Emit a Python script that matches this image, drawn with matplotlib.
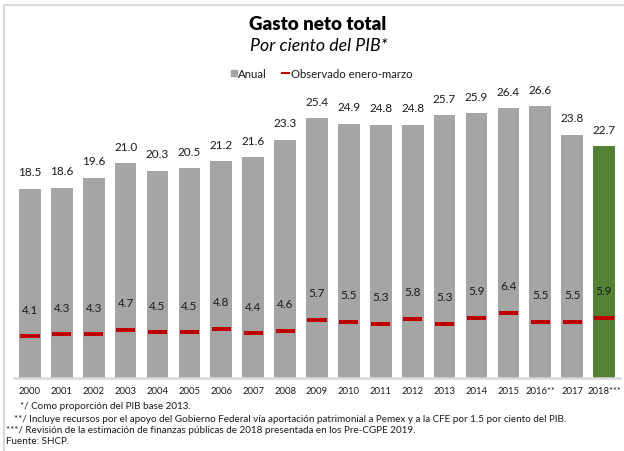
import matplotlib
matplotlib.use("Agg")
import matplotlib.pyplot as plt
from matplotlib.patches import Rectangle
from matplotlib.lines import Line2D
import numpy as np

years = ["2000", "2001", "2002", "2003", "2004", "2005", "2006", "2007", "2008", "2009",
         "2010", "2011", "2012", "2013", "2014", "2015", "2016**", "2017", "2018***"]
anual = [18.5, 18.6, 19.6, 21.0, 20.3, 20.5, 21.2, 21.6, 23.3, 25.4,
         24.9, 24.8, 24.8, 25.7, 25.9, 26.4, 26.6, 23.8, 22.7]
observado = [4.1, 4.3, 4.3, 4.7, 4.5, 4.5, 4.8, 4.4, 4.6, 5.7,
             5.5, 5.3, 5.8, 5.3, 5.9, 6.4, 5.5, 5.5, 5.9]
footnotes = [
    "*/ Como proporción del PIB base 2013.",
    "**/ Incluye recursos por el apoyo del Gobierno Federal vía aportación patrimonial a Pemex y a la CFE por 1.5 por ciento del PIB.",
    "***/ Revisión de la estimación de finanzas públicas de 2018 presentada en los Pre-CGPE 2019.",
    "Fuente: SHCP.",
]

plt.rcParams['font.family'] = ['Lato', 'DejaVu Sans']

W, H = 624, 452
fig = plt.figure(figsize=(W / 100, H / 100), dpi=100)

def fx(px):
    return px / W

def fy(py):
    return 1 - py / H

# frame
fig.patches.append(Rectangle((fx(4), fy(470)), fx(700), fy(6) - fy(470),
                             transform=fig.transFigure, fill=False,
                             edgecolor="#d9d9d9", lw=1.5))

ax = fig.add_axes([fx(14), fy(379), fx(620) - fx(14), fy(90) - fy(379)])
x = np.arange(len(years))
colors = ["#a5a5a5"] * (len(years) - 1) + ["#548235"]
ax.bar(x, anual, width=0.68, color=colors, zorder=2)
ax.hlines(observado, x - 0.3, x + 0.3, color="#c00000", lw=2.9, zorder=3)

for xi, v in zip(x, anual):
    ax.annotate(f"{v:.1f}", (xi, v), xytext=(0, 17), textcoords="offset pixels",
                ha="center", va="center", fontsize=8.5, color="#1a1a1a")
for xi, v in zip(x, observado):
    ax.annotate(f"{v:.1f}", (xi, v), xytext=(0, 27), textcoords="offset pixels",
                ha="center", va="center", fontsize=8.5, color="#1a1a1a")

ax.set_xlim(-0.5, len(years) - 0.5)
ax.set_ylim(0, (379 - 90) / 10.22)
ax.set_xticks(x)
ax.set_xticklabels(years, fontsize=6.8, color="#1a1a1a")
ax.tick_params(axis="x", length=0, pad=6)
ax.set_yticks([])
for s in ["top", "right", "left"]:
    ax.spines[s].set_visible(False)
ax.spines["bottom"].set_color("#d9d9d9")
ax.spines["bottom"].set_linewidth(1.8)
ax.patch.set_alpha(0)

# titles
fig.text(fx(318), fy(25), "Gasto neto total", ha="center", va="center",
         fontsize=13.5, fontweight="heavy", color="black")
fig.text(fx(319), fy(46), "Por ciento del PIB*", ha="center", va="center",
         fontsize=12.8, fontstyle="italic", color="black")

# legend
fig.patches.append(Rectangle((fx(231), fy(77)), fx(6), fy(71) - fy(77),
                             transform=fig.transFigure, color="#a5a5a5"))
fig.text(fx(238), fy(74), "Anual", ha="left", va="center", fontsize=8.2, color="#1a1a1a")
fig.lines.append(Line2D([fx(282), fx(289)], [fy(74), fy(74)], transform=fig.transFigure,
                        color="#c00000", lw=1.5))
fig.text(fx(291), fy(74), "Observado enero-marzo", ha="left", va="center",
         fontsize=8.2, color="#1a1a1a")

# footnotes
foot_x = [20, 14, 6, 6]
foot_y = [407, 419, 431, 442]
for t, xx, yy in zip(footnotes, foot_x, foot_y):
    fig.text(fx(xx), fy(yy), t, ha="left", va="center", fontsize=7.1, color="#1a1a1a")

fig.savefig("out.png", dpi=100)
